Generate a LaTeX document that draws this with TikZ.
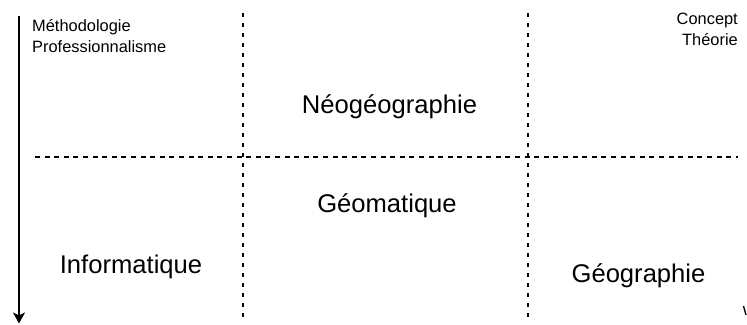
\documentclass[tikz,border=0pt]{standalone}
\usepackage{fontspec}
\setmainfont{Liberation Sans}
\usetikzlibrary{arrows.meta}
\begin{document}
\begin{tikzpicture}[x=1pt,y=-1pt,
  small/.style={font=\fontsize{16.4}{21}\selectfont, inner sep=0pt},
  big/.style={font=\fontsize{25.6}{30}\selectfont, inner sep=0pt, anchor=base},
  vdots/.style={line width=2.4pt, dash pattern=on 4pt off 6pt},
  hdash/.style={line width=2.4pt, dash pattern=on 5pt off 4.6pt},
  axis/.style={line width=1.5pt, -{Stealth[length=11pt,width=12pt,inset=3pt]}}]
\useasboundingbox (0,0) rectangle (747,324);
% axis
\coordinate (atop) at (19,16);
\coordinate (abot) at (19,323.5);
\draw[axis] (atop) -- (abot);
% grid lines
\coordinate (v1t) at (243,13);
\coordinate (v1b) at (243,322);
\coordinate (v2t) at (528,13);
\coordinate (v2b) at (528,322);
\coordinate (hl) at (35,157);
\coordinate (hr) at (738,157);
\draw[vdots] (v1t) -- (v1b);
\draw[vdots] (v2t) -- (v2b);
\draw[hdash] (hl) -- (hr);
% small labels
\node[small, anchor=base west, align=left] (meth) at (32,31.5) {Méthodologie};
\node[small, anchor=base west, align=left] (prof) at (32,52.5) {Professionnalisme};
\node[small, anchor=base east] (conc) at (738,24) {Concept};
\node[small, anchor=base east] (theo) at (738,45) {Théorie};
% big labels
\node[big] (neo) at (389.5,113) {Néogéographie};
\node[big] (geom) at (387,212) {Géomatique};
\node[big] (info) at (131,273) {Informatique};
\node[big] (geog) at (638.5,282) {Géographie};
% cut-off mark at bottom right
\coordinate (m1) at (743.5,306);
\coordinate (m2) at (746,315);
\draw[line width=1.3pt] (m1) -- (m2);
\end{tikzpicture}
\end{document}
